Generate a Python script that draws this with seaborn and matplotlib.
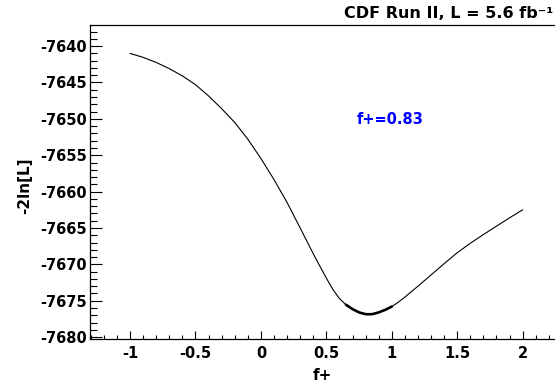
import matplotlib
matplotlib.use("Agg")
import matplotlib.pyplot as plt
from matplotlib.ticker import MultipleLocator, FixedLocator
import seaborn as sns
import pandas as pd

# data
f_plus = [-1.0, -0.9, -0.8, -0.7, -0.6, -0.5, -0.4, -0.3, -0.2, -0.1,
          0.0, 0.1, 0.2, 0.3, 0.4, 0.5, 0.55, 0.6, 0.65, 0.7, 0.75, 0.8, 0.85, 0.9, 0.95, 1.0,
          1.05, 1.1, 1.2, 1.3, 1.4, 1.5, 1.6, 1.7, 1.8, 1.9, 2.0]
nll = [-7641.0, -7641.55, -7642.25, -7643.1, -7644.1, -7645.3, -7646.85, -7648.6, -7650.5, -7652.8,
       -7655.45, -7658.35, -7661.5, -7665.0, -7668.55, -7671.9, -7673.45, -7674.7, -7675.55,
       -7676.15, -7676.6, -7676.85, -7676.85, -7676.6, -7676.25, -7675.8,
       -7675.2, -7674.5, -7673.0, -7671.45, -7669.9, -7668.4, -7667.1, -7665.9, -7664.75, -7663.6, -7662.5]
best_fit_label = "f+=0.83"
title_text = "CDF Run II, L = 5.6 fb\u207b\u00b9"
x_label = "f+"
y_label = "-2ln[L]"
x_ticks = [-1, -0.5, 0, 0.5, 1, 1.5, 2]
x_ticklabels = ["-1", "-0.5", "0", "0.5", "1", "1.5", "2"]
y_ticks = [-7680, -7675, -7670, -7665, -7660, -7655, -7650, -7645, -7640]

sns.set_style("ticks")
plt.rcParams["font.family"] = ["DejaVu Sans"]
for k in ["text.color", "axes.labelcolor", "xtick.color", "ytick.color",
          "xtick.labelcolor", "ytick.labelcolor", "axes.edgecolor"]:
    plt.rcParams[k] = "black"

df = pd.DataFrame({"f": f_plus, "nll": nll})
thick = df[(df.f >= 0.65) & (df.f <= 1.0)]

W, H = 555, 390
L, T, B = 90, 25, 339.3
fig = plt.figure(figsize=(W / 100, H / 100), dpi=100)
ax = fig.add_axes([L / W, 1 - B / H, 1 - L / W, (B - T) / H])

sns.lineplot(data=df, x="f", y="nll", ax=ax, color="black", linewidth=0.8, sort=False)
sns.lineplot(data=thick, x="f", y="nll", ax=ax, color="black", linewidth=1.9, sort=False)

ax.set_xlim(-1.306, 2.247)
ax.set_ylim(-7680.3, -7637.1)

ax.xaxis.set_major_locator(FixedLocator(x_ticks))
ax.set_xticklabels(x_ticklabels)
ax.xaxis.set_minor_locator(MultipleLocator(0.1))
ax.yaxis.set_major_locator(FixedLocator(y_ticks))
ax.set_yticklabels([str(v) for v in y_ticks])
ax.yaxis.set_minor_locator(MultipleLocator(1))

ax.tick_params(axis="x", which="major", direction="in", length=6, width=0.8,
               labelsize=10.5, pad=5, colors="black")
ax.tick_params(axis="x", which="minor", direction="in", length=3.1, width=0.8, colors="black")
ax.tick_params(axis="y", which="major", direction="in", length=8.3, width=0.8,
               labelsize=10.5, pad=2, colors="black")
ax.tick_params(axis="y", which="minor", direction="in", length=5, width=0.8, colors="black")
for lab in ax.get_xticklabels() + ax.get_yticklabels():
    lab.set_fontweight("bold")

for s in ["left", "bottom", "top"]:
    ax.spines[s].set_linewidth(0.9)
    ax.spines[s].set_color("black")
    ax.spines[s].set_visible(True)
ax.spines["right"].set_visible(False)

ax.set_xlabel("")
ax.set_ylabel("")
fig.text(322 / W, 1 - 376 / H, x_label, fontsize=11, fontweight="bold",
         ha="center", va="center", color="black")
fig.text(25 / W, 1 - 186 / H, y_label, fontsize=11, fontweight="bold",
         ha="center", va="center", rotation=90, color="black")

fig.text(390 / W, 1 - 119 / H, best_fit_label,
         color="#0000ff", fontsize=10.5, fontweight="bold", ha="center", va="center")
fig.text(553 / W, 1 - 13 / H, title_text, fontsize=11.5, fontweight="bold",
         ha="right", va="center", color="black")

fig.savefig("out.png", dpi=100)
